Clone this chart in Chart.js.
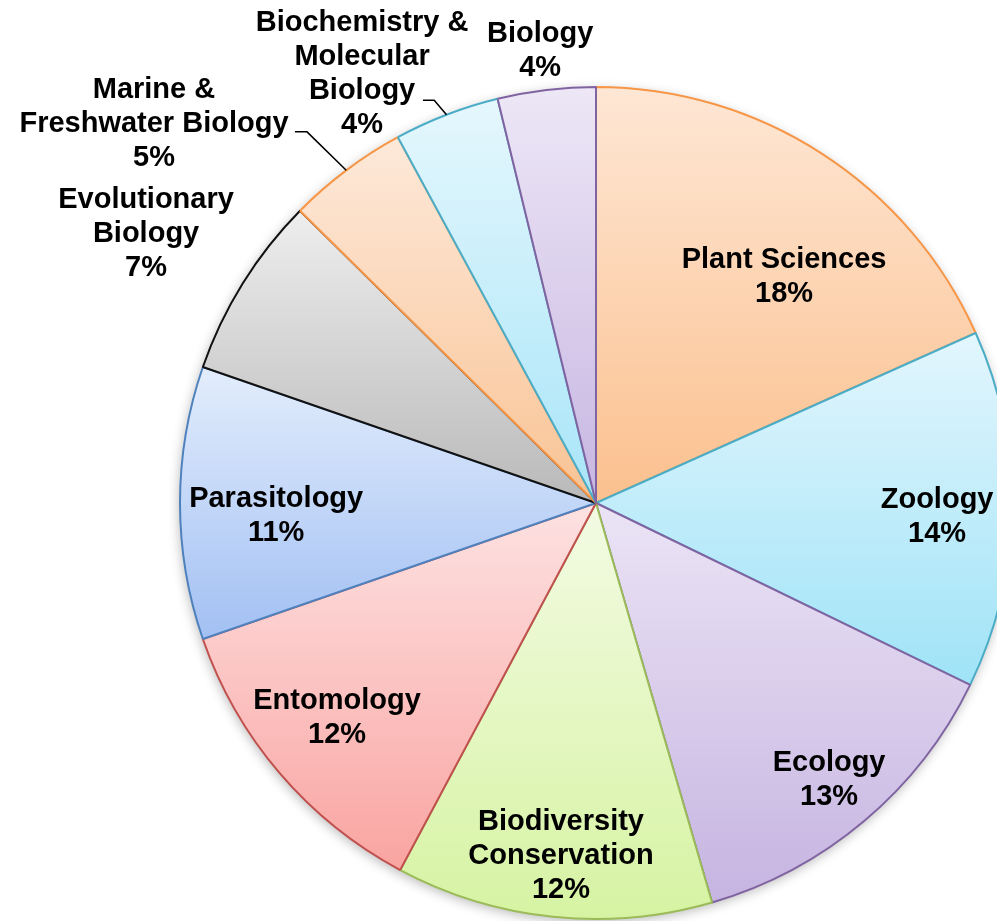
<!DOCTYPE html>
<html>
<head>
<meta charset="utf-8">
<script src="https://cdn.jsdelivr.net/npm/chart.js@4.4.1/dist/chart.umd.min.js"></script>
<style>
  html, body { margin: 0; padding: 0; background: #fff; overflow: hidden; }
  #wrap { width: 997px; height: 921px; overflow: hidden; }
</style>
</head>
<body>
<div id="wrap"><canvas id="pie" width="1040" height="921"></canvas></div>
<script>
// ---------------------- Data ----------------------
const fields = [
  "Plant Sciences", "Zoology", "Ecology", "Biodiversity Conservation", "Entomology",
  "Parasitology", "Evolutionary Biology", "Marine & Freshwater Biology",
  "Biochemistry & Molecular Biology", "Biology"
];
// share of papers (%)
const shares = [18.3, 13.9, 13.3, 12.3, 11.9, 10.6, 7.1, 4.7, 4.1, 3.8];

// how each label is broken into lines (the percent line is added below)
const labelLines = [
  ["Plant Sciences"], ["Zoology"], ["Ecology"], ["Biodiversity", "Conservation"], ["Entomology"],
  ["Parasitology"], ["Evolutionary", "Biology"], ["Marine &", "Freshwater Biology"],
  ["Biochemistry &", "Molecular", "Biology"], ["Biology"]
];

// ---------------------- Styles ----------------------
const topColors = ["#fee7d5", "#e3f6fd", "#ebe4f5", "#f3fbe4", "#fde2e2", "#e3edfc", "#eeeeee", "#fde9da", "#e5f7fd", "#ede7f6"];
const bottomColors = ["#fbc08e", "#9fe3f7", "#c6b4e1", "#d6f3a2", "#f9a4a1", "#a2c0f3", "#b9b9b9", "#f9c394", "#a8e5f8", "#c7b6e2"];
const borderColors = ["#f79646", "#4bacc6", "#8064a2", "#9bbb59", "#c0504d", "#4f81bd", "#111111", "#f79646", "#4bacc6", "#8064a2"];

// label block centre relative to pie centre, in pie radii
const labelPos = [
  [0.451, -0.544], [0.818, 0.031], [0.559, 0.662], [-0.084, 0.844], [-0.621, 0.513],
  [-0.767, 0.029], [-1.079, -0.647], [-1.060, -0.911], [-0.561, -1.031], [-0.134, -1.086]
];
// leader lines for outside labels: [elbow, end], in pie radii
const leaders = {
  7: [[-0.693, -0.890], [-0.722, -0.890]],
  8: [[-0.388, -0.966], [-0.415, -0.966]]
};

const FONT = "bold 29px 'Liberation Sans', Arial, sans-serif";
const LINE_H = 34;

// ---------------------- Helpers ----------------------
const total = shares.reduce((a, b) => a + b, 0);

function pieGeom(chart) {
  const a = chart.chartArea;
  return {
    cx: (a.left + a.right) / 2,
    cy: (a.top + a.bottom) / 2,
    r: Math.min(a.right - a.left, a.bottom - a.top) / 2
  };
}

// vertical gradient over each slice's own bounding box (Excel style)
function sliceGradient(ctx) {
  const i = ctx.dataIndex;
  const chart = ctx.chart;
  if (i == null || !chart.chartArea) return topColors[i] || "#ccc";
  const { cy, r } = pieGeom(chart);
  const before = shares.slice(0, i).reduce((a, b) => a + b, 0);
  const a0 = before / total * 2 * Math.PI - Math.PI / 2;
  const a1 = a0 + shares[i] / total * 2 * Math.PI;
  const ys = [cy, cy + r * Math.sin(a0), cy + r * Math.sin(a1)];
  const has = (ang) => {
    for (let k = -1; k <= 1; k++) {
      const t = ang + k * 2 * Math.PI;
      if (t >= a0 && t <= a1) return true;
    }
    return false;
  };
  if (has(-Math.PI / 2)) ys.push(cy - r);
  if (has(Math.PI / 2)) ys.push(cy + r);
  const y0 = Math.min(...ys), y1 = Math.max(...ys);
  const g = chart.ctx.createLinearGradient(0, y0, 0, Math.max(y1, y0 + 1));
  g.addColorStop(0, topColors[i]);
  g.addColorStop(1, bottomColors[i]);
  return g;
}

// soft shadow under the pie
const pieShadow = {
  id: "pieShadow",
  beforeDatasetsDraw(chart) {
    const { cx, cy, r } = pieGeom(chart);
    const c = chart.ctx;
    c.save();
    c.shadowColor = "rgba(0,0,0,0.28)";
    c.shadowBlur = 12;
    c.shadowOffsetX = -1;
    c.shadowOffsetY = 3;
    c.fillStyle = "#fff";
    c.beginPath();
    c.arc(cx, cy, r - 1, 0, 2 * Math.PI);
    c.fill();
    c.restore();
  }
};

// data labels + leader lines
const sliceLabels = {
  id: "sliceLabels",
  afterDatasetsDraw(chart) {
    const c = chart.ctx;
    const { cx, cy, r } = pieGeom(chart);
    const arcs = chart.getDatasetMeta(0).data;
    c.save();

    // leader lines
    c.strokeStyle = "#000";
    c.lineWidth = 1.5;
    Object.keys(leaders).forEach(k => {
      const arc = arcs[k];
      const mid = (arc.startAngle + arc.endAngle) / 2;
      const [elbow, end] = leaders[k];
      c.beginPath();
      c.moveTo(cx + arc.outerRadius * Math.cos(mid), cy + arc.outerRadius * Math.sin(mid));
      c.lineTo(cx + elbow[0] * r, cy + elbow[1] * r);
      c.lineTo(cx + end[0] * r, cy + end[1] * r);
      c.stroke();
    });

    // texts
    c.font = FONT;
    c.fillStyle = "#000";
    c.textAlign = "center";
    c.textBaseline = "middle";
    shares.forEach((v, i) => {
      const lines = [...labelLines[i], Math.round(v / total * 100) + "%"];
      const x = cx + labelPos[i][0] * r;
      const y = cy + labelPos[i][1] * r;
      lines.forEach((t, j) => {
        c.fillText(t, x, y + (j - (lines.length - 1) / 2) * LINE_H + 1);
      });
    });
    c.restore();
  }
};

// ---------------------- Chart ----------------------
new Chart(document.getElementById("pie").getContext("2d"), {
  type: "pie",
  data: {
    labels: fields,
    datasets: [{
      data: shares,
      backgroundColor: sliceGradient,
      borderColor: borderColors,
      borderWidth: 2
    }]
  },
  options: {
    responsive: false,
    animation: false,
    events: [],
    layout: { padding: { left: 179, right: 27, top: 86, bottom: 1 } },
    plugins: {
      legend: { display: false },
      tooltip: { enabled: false }
    }
  },
  plugins: [pieShadow, sliceLabels]
});
</script>
</body>
</html>
